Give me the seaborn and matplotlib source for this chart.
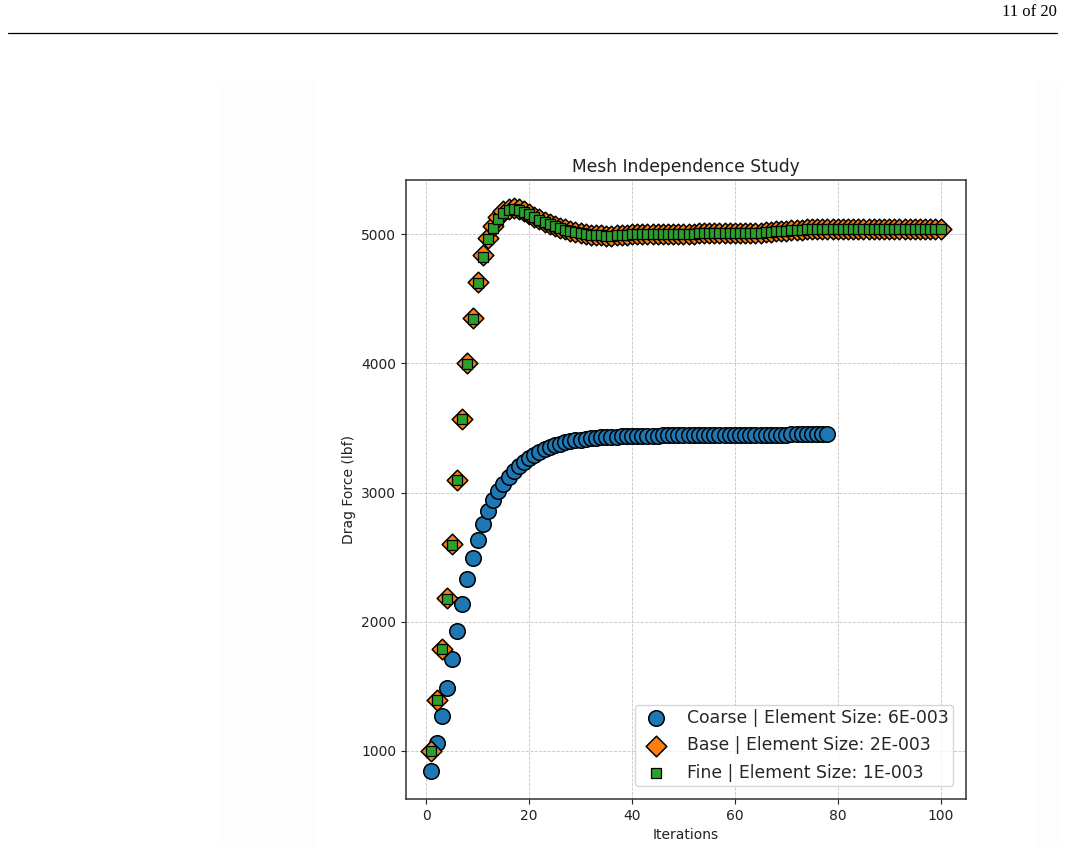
import numpy as np
import pandas as pd
import matplotlib
matplotlib.use("Agg")
import matplotlib.pyplot as plt
import seaborn as sns

# Drag force per iteration for the three meshes
coarse_drag = [845, 1060, 1270, 1485, 1708, 1928, 2140, 2330, 2495, 2635,
               2755, 2855, 2940, 3010, 3070, 3120, 3165, 3205, 3240, 3270,
               3295, 3318, 3337, 3353, 3367, 3379, 3389, 3398, 3405, 3411,
               3416, 3420, 3424, 3427, 3430, 3432, 3434, 3436, 3437, 3438,
               3439, 3440, 3441, 3442, 3442, 3443, 3443, 3444, 3444, 3445,
               3445, 3445, 3446, 3446, 3446, 3447, 3447, 3447, 3447, 3448,
               3448, 3448, 3448, 3448, 3449, 3449, 3449, 3449, 3449, 3449,
               3450, 3450, 3450, 3450, 3450, 3450, 3450, 3450]

base_drag = [1000, 1395, 1790, 2180, 2600, 3100, 3570, 4000, 4350, 4630,
             4838, 4975, 5066, 5134, 5178, 5198, 5203, 5196, 5180, 5160,
             5138, 5117, 5098, 5080, 5064, 5050, 5038, 5027, 5018, 5010,
             5003, 4998, 4994, 4992, 4991, 4991, 4992, 4994, 4997, 5000,
             5003, 5005, 5006, 5006, 5005, 5004, 5003, 5002, 5002, 5003,
             5004, 5006, 5008, 5010, 5012, 5013, 5013, 5012, 5011, 5010,
             5009, 5009, 5010, 5012, 5014, 5017, 5020, 5023, 5026, 5029,
             5032, 5034, 5036, 5038, 5039, 5040, 5041, 5042, 5042, 5042,
             5042, 5041, 5041, 5040, 5040, 5040, 5040, 5041, 5041, 5042,
             5042, 5042, 5042, 5042, 5041, 5041, 5041, 5041, 5041, 5041]

fine_drag = [1000, 1393, 1788, 2178, 2598, 3098, 3568, 3996, 4345, 4622,
             4828, 4963, 5052, 5120, 5166, 5188, 5194, 5188, 5174, 5155,
             5134, 5114, 5096, 5078, 5062, 5048, 5037, 5026, 5017, 5009,
             5003, 4998, 4994, 4992, 4991, 4991, 4992, 4994, 4997, 5000,
             5003, 5005, 5006, 5006, 5005, 5004, 5003, 5002, 5002, 5003,
             5004, 5006, 5008, 5010, 5012, 5013, 5013, 5012, 5011, 5010,
             5009, 5009, 5010, 5012, 5014, 5017, 5020, 5023, 5026, 5029,
             5032, 5034, 5036, 5038, 5039, 5040, 5041, 5042, 5042, 5042,
             5042, 5041, 5041, 5040, 5040, 5040, 5040, 5041, 5041, 5042,
             5042, 5042, 5042, 5042, 5041, 5041, 5041, 5041, 5041, 5041]

coarse_iter = np.arange(1, len(coarse_drag) + 1)
base_iter = np.arange(1, len(base_drag) + 1)
fine_iter = np.arange(1, len(fine_drag) + 1)

labels = ["Coarse | Element Size: 6E-003",
          "Base | Element Size: 2E-003",
          "Fine | Element Size: 1E-003"]

sns.set_style("ticks")
plt.rcParams["font.family"] = ["DejaVu Sans"]

fig = plt.figure(figsize=(10.65, 8.46), dpi=100)

# page header like the paper it came from
fig.text(0.992, 0.995, "11 of 20", ha="right", va="top", fontsize=12,
         family=["Liberation Serif", "DejaVu Serif"], color="black")
fig.add_artist(plt.Line2D([8 / 1065, 1057 / 1065], [1 - 33 / 846, 1 - 33 / 846],
                          color="black", linewidth=0.9))
# faint strips of the embedded image background
fig.add_artist(plt.Rectangle((222 / 1065, 0), 93 / 1065, 1 - 82 / 846,
                             color="#fdfdfd", zorder=0))
fig.add_artist(plt.Rectangle((1037 / 1065, 0), 20 / 1065, 1 - 82 / 846,
                             color="#fdfdfd", zorder=0))

ax = fig.add_axes([406 / 1065, 1 - 799 / 846, 560 / 1065, 619 / 846])

sns.scatterplot(x=coarse_iter, y=coarse_drag, ax=ax, marker="o", s=125,
                color="#1f77b4", edgecolor="black", linewidth=1.1,
                label=labels[0], zorder=3)
sns.scatterplot(x=base_iter, y=base_drag, ax=ax, marker="D", s=110,
                color="#ff7f0e", edgecolor="black", linewidth=1.1,
                label=labels[1], zorder=4)
sns.scatterplot(x=fine_iter, y=fine_drag, ax=ax, marker="s", s=45,
                color="#2ca02c", edgecolor="black", linewidth=0.9,
                label=labels[2], zorder=5)

ax.set_title("Mesh Independence Study", fontsize=12.3, color="#222222")
ax.set_xlabel("Iterations", fontsize=10, color="#222222")
ax.set_ylabel("Drag Force (lbf)", fontsize=10, color="#222222")
ax.set_xticks([0, 20, 40, 60, 80, 100])
ax.set_yticks([1000, 2000, 3000, 4000, 5000])
ax.tick_params(labelsize=10, colors="#222222")
ax.grid(True, linestyle="--", linewidth=0.6, color="#c4c4c4")
ax.set_axisbelow(True)
for sp in ax.spines.values():
    sp.set_color("#333333")
    sp.set_linewidth(1.1)

ax.legend(loc="lower right", fontsize=12.4, frameon=True, framealpha=0.8,
          borderpad=0.25, labelspacing=0.55, borderaxespad=0.75)

fig.savefig("out.png", dpi=100)
